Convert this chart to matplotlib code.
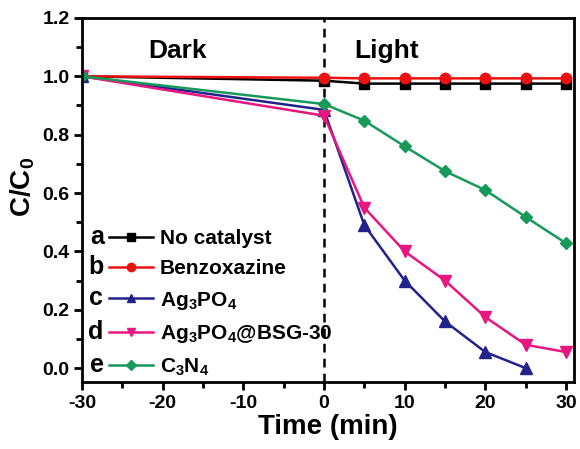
import matplotlib
matplotlib.use("Agg")
import matplotlib.pyplot as plt
from matplotlib.ticker import MultipleLocator

plt.rcParams['font.family'] = ['Liberation Sans', 'DejaVu Sans']
plt.rcParams['font.weight'] = 'bold'
plt.rcParams['mathtext.fontset'] = 'custom'
plt.rcParams['mathtext.rm'] = 'Liberation Sans:bold'
plt.rcParams['mathtext.it'] = 'Liberation Sans:bold'
plt.rcParams['mathtext.bf'] = 'Liberation Sans:bold'
plt.rcParams['mathtext.default'] = 'bf'
plt.rcParams['axes.unicode_minus'] = False

# data
t_full = [-30, 0, 5, 10, 15, 20, 25, 30]
t_c = [-30, 0, 5, 10, 15, 20, 25]
no_catalyst = [1.0, 0.985, 0.975, 0.975, 0.975, 0.975, 0.975, 0.975]
benzoxazine = [1.0, 0.995, 0.993, 0.993, 0.993, 0.993, 0.993, 0.993]
ag3po4 = [1.0, 0.885, 0.49, 0.30, 0.16, 0.055, 0.0]
ag3po4_bsg = [1.0, 0.865, 0.55, 0.40, 0.30, 0.175, 0.08, 0.055]
c3n4 = [1.0, 0.905, 0.848, 0.76, 0.675, 0.61, 0.518, 0.428]

letters = ['a', 'b', 'c', 'd', 'e']
labels = ['No catalyst', 'Benzoxazine', 'Ag$_3$PO$_4$', 'Ag$_3$PO$_4$@BSG-30', 'C$_3$N$_4$']
colors = ['#000000', '#ee1111', '#22228c', '#e8177f', '#17995a']

fig = plt.figure(figsize=(5.8, 4.49), dpi=100)
ax = fig.add_axes([0.1414, 0.149, 0.8483, 0.811])

lw = 1.8
ax.plot(t_full, no_catalyst, '-s', color=colors[0], lw=lw, ms=6.5, label=labels[0])
ax.plot(t_full, benzoxazine, '-o', color=colors[1], lw=lw, ms=7.5, label=labels[1])
ax.plot(t_c, ag3po4, '-^', color=colors[2], lw=lw, ms=8, label=labels[2])
ax.plot(t_full, ag3po4_bsg, '-v', color=colors[3], lw=lw, ms=8, label=labels[3])
ax.plot(t_full, c3n4, '-D', color=colors[4], lw=lw, ms=6.5, label=labels[4])

ax.axvline(0, color='black', lw=1.8, ls=(0, (3.5, 2.5)), zorder=1)

ax.set_xlim(-30, 31)
ax.set_ylim(-0.048, 1.2)
ax.xaxis.set_major_locator(MultipleLocator(10))
ax.xaxis.set_minor_locator(MultipleLocator(5))
ax.yaxis.set_major_locator(MultipleLocator(0.2))
ax.yaxis.set_minor_locator(MultipleLocator(0.1))
ax.yaxis.set_major_formatter(matplotlib.ticker.FormatStrFormatter('%.1f'))
ax.tick_params(which='major', direction='out', length=6, width=2, labelsize=14, pad=3)
ax.tick_params(which='minor', direction='out', length=4, width=2)
for s in ax.spines.values():
    s.set_linewidth(2)

ax.set_xlabel('Time (min)', fontsize=20, fontweight='bold', labelpad=2)
ax.set_ylabel('C/C$_0$', fontsize=20, fontweight='bold')
ax.yaxis.set_label_coords(-0.092, 0.535)

ax.text(-18.2, 1.087, 'Dark', fontsize=19, fontweight='bold', ha='center', va='center')
ax.text(7.8, 1.087, 'Light', fontsize=19, fontweight='bold', ha='center', va='center')

leg = ax.legend(loc='lower left', bbox_to_anchor=(0.046, 0.0), frameon=False,
                fontsize=15, handlelength=2.1, handletextpad=0.35, labelspacing=0.55,
                borderpad=0.2, borderaxespad=0, markerscale=0.8)

fig.canvas.draw()
inv = fig.transFigure.inverted()
for letter, line in zip(letters, leg.get_lines()):
    bb = line.get_window_extent(fig.canvas.get_renderer())
    x0, y0 = inv.transform((bb.x0 - 1, (bb.y0 + bb.y1) / 2))
    fig.text(x0, y0, letter, fontsize=18, fontweight='bold', ha='right', va='center')

fig.savefig('out.png', dpi=100)
